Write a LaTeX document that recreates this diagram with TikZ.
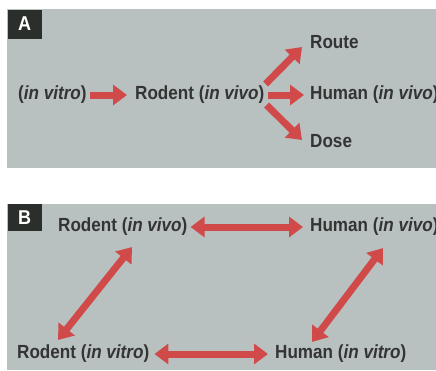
\documentclass[tikz,border=0pt]{standalone}
\usepackage{fontspec}
\setmainfont[FakeStretch=0.9]{Liberation Sans}
\usetikzlibrary{arrows.meta,positioning}
\definecolor{ink}{HTML}{343434}
\definecolor{panel}{HTML}{B8C0C0}
\definecolor{tag}{HTML}{2A2F2B}
\definecolor{arrowred}{HTML}{D04A4A}
\tikzset{
  lbl/.style={font=\fontsize{19}{21}\selectfont\bfseries,text=ink,inner sep=1pt,anchor=west},
  tagbox/.style={fill=tag,text=white,font=\fontsize{20}{22}\selectfont\bfseries,minimum width=34pt,minimum height=29pt,inner sep=0pt},
  fat/.style={-{Triangle[width=20pt,length=14pt]},line width=7pt,draw=arrowred},
  fatboth/.style={{Triangle[width=20pt,length=14pt]}-{Triangle[width=20pt,length=14pt]},line width=7pt,draw=arrowred}
}

\begin{document}
\begin{tikzpicture}[x=1pt,y=-1pt]
  \useasboundingbox (0,0) rectangle (436,370);
  \fill[white] (0,0) rectangle (436,370);
  % panels
  \fill[panel] (7,9) rectangle (436,168);
  \fill[panel] (7,204) rectangle (436,370);
  \node[tagbox] (tagA) at (24.5,24) {A};
  \node[tagbox,minimum height=27pt] (tagB) at (24.5,217.5) {B};

  % panel A
  \node[lbl] (vitroA) at (17,95) {(\textit{in vitro})};
  \node[lbl] (rodA) at (134,95) {Rodent (\textit{in vivo})};
  \node[lbl] (humA) at (309,95) {Human (\textit{in vivo})};
  \node[lbl] (route) at (309,42) {Route};
  \node[lbl] (dose) at (309,141) {Dose};
  \draw[fat,shorten <=2pt,shorten >=7pt] (vitroA) -- (rodA);
  \draw[fat,shorten <=2pt,shorten >=5pt] (rodA) -- (humA);
  \draw[fat] ([shift={(0pt,11pt)}]rodA.east) -- ([shift={(-7pt,-5pt)}]route.west);
  \draw[fat] ([shift={(1pt,-10pt)}]rodA.east) -- ([shift={(-7pt,1pt)}]dose.west);

  % panel B
  \node[lbl] (rodvivo) at (57,227) {Rodent (\textit{in vivo})};
  \node[lbl] (humvivo) at (309,227) {Human (\textit{in vivo})};
  \node[lbl] (rodvitro) at (16,354) {Rodent (\textit{in vitro})};
  \node[lbl] (humvitro) at (274,354) {Human (\textit{in vitro})};
  \draw[fatboth,shorten <=2pt,shorten >=6pt] (rodvivo) -- (humvivo);
  \draw[fatboth,shorten <=4pt,shorten >=6pt] (rodvitro) -- (humvitro);
  \draw[fatboth] ([shift={(42pt,4pt)}]rodvitro.north west) -- ([shift={(75pt,-10pt)}]rodvivo.south west);
  \draw[fatboth] ([shift={(38pt,2pt)}]humvitro.north west) -- ([shift={(74pt,-11pt)}]humvivo.south west);
\end{tikzpicture}
\end{document}
